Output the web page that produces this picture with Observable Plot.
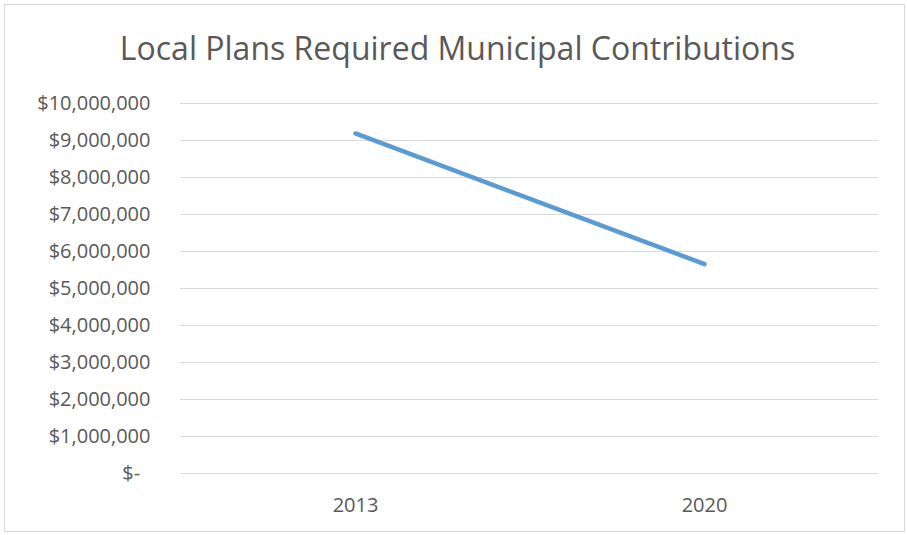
<!DOCTYPE html>
<html>
<head>
<meta charset="utf-8">
<script src="https://cdn.jsdelivr.net/npm/d3@7"></script>
<script src="https://cdn.jsdelivr.net/npm/@observablehq/plot@0.6"></script>
<style>
  html, body { margin: 0; padding: 0; background: #fff; }
  #wrap { position: relative; width: 907px; height: 535px; }
  #border { position: absolute; left: 4px; top: 4px; width: 901px; height: 528px; border: 1px solid #d9d9d9; box-sizing: border-box; }
  #chart { position: absolute; left: 0; top: 0; }
</style>
</head>
<body>
<div id="wrap"><div id="border"></div><div id="chart"></div></div>
<script>
const title = "Local Plans Required Municipal Contributions";
const years = ["2013", "2020"];
const contributions = [9190000, 5660000];
const yTicks = [0, 1000000, 2000000, 3000000, 4000000, 5000000, 6000000, 7000000, 8000000, 9000000, 10000000];

const data = years.map((y, i) => ({year: y, value: contributions[i]}));
const fmt = d3.format(",");
const textColor = "#595959";

const chart = Plot.plot({
  width: 907,
  height: 535,
  marginTop: 103,
  marginBottom: 62,
  marginLeft: 180,
  marginRight: 29,
  style: {fontFamily: "'Open Sans', sans-serif", fontSize: "20px", color: textColor, background: "transparent", overflow: "visible"},
  x: {type: "point", domain: years, padding: 0.5, label: null},
  y: {domain: [0, 10000000], label: null},
  marks: [
    Plot.gridY(yTicks, {stroke: "#d9d9d9", strokeOpacity: 1, strokeWidth: 1}),
    Plot.axisY(yTicks, {tickSize: 0, tickPadding: 30, fill: textColor, fontSize: 20,
      tickFormat: d => d === 0 ? "$-\u00a0\u00a0" : "$" + fmt(d)}),
    Plot.axisX({tickSize: 0, tickPadding: 24, fill: textColor, fontSize: 20}),
    Plot.line(data, {x: "year", y: "value", stroke: "#5b9bd5", strokeWidth: 4.5, strokeLinecap: "round", strokeLinejoin: "round"}),
    Plot.text([title], {frameAnchor: "top", dx: -72, dy: -44, fontSize: 32, fill: textColor, text: d => d, lineAnchor: "bottom"})
  ]
});
document.getElementById("chart").appendChild(chart);
</script>
</body>
</html>
